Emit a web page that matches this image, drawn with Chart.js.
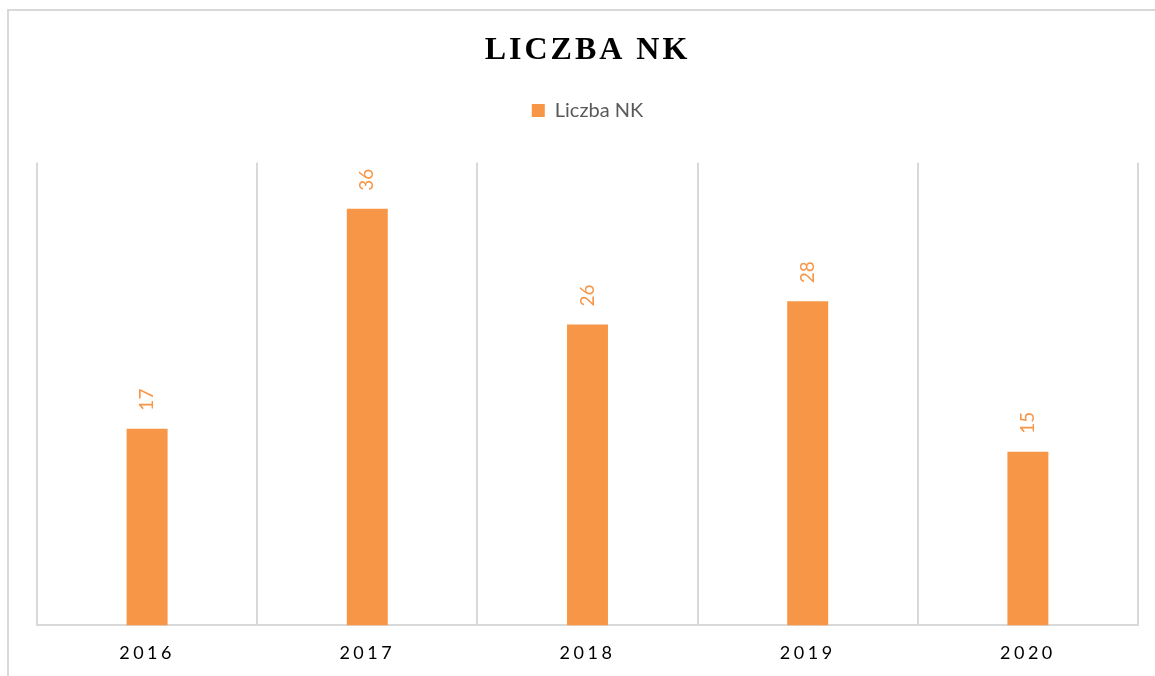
<!DOCTYPE html>
<html>
<head>
<meta charset="utf-8">
<script src="https://cdn.jsdelivr.net/npm/chart.js@4.4.0/dist/chart.umd.min.js"></script>
<style>
  html, body { margin: 0; padding: 0; background: #fff; overflow: hidden; }
  #frame {
    position: absolute; left: 7px; top: 9px; width: 2000px; height: 2000px;
    border-left: 2px solid #d9d9d9; border-top: 2px solid #d9d9d9;
  }
  #wrap { position: absolute; left: 0; top: 0; width: 1155px; height: 676px; }
</style>
</head>
<body>
<div id="frame"></div>
<div id="wrap"><canvas id="nkChart"></canvas></div>
<script>
const years = ["2016", "2017", "2018", "2019", "2020"];
const nkCounts = [17, 36, 26, 28, 15];
const seriesName = "Liczba NK";
const chartTitle = "LICZBA NK";

const orange = "#F79646";

// letter spacing for the title and the year labels
const spacingPlugin = {
  id: "spacing",
  afterUpdate(chart) {
    const x = chart.scales.x;
    if (x && !x._spaced) {
      const orig = x.drawLabels;
      x.drawLabels = function (area) {
        const ctx = this.ctx;
        ctx.save();
        ctx.letterSpacing = "3.5px";
        orig.call(this, area);
        ctx.restore();
      };
      x._spaced = true;
    }
    const t = chart.titleBlock;
    if (t && !t._spaced) {
      const origT = t.draw;
      t.draw = function () {
        const ctx = this.ctx;
        ctx.save();
        ctx.letterSpacing = "3px";
        origT.call(this);
        ctx.restore();
      };
      t._spaced = true;
    }
  },
};

// extra room under the legend
const legendGap = {
  id: "legendGap",
  beforeInit(chart) {
    const fit = chart.legend.fit;
    chart.legend.fit = function () {
      fit.bind(chart.legend)();
      this.height += 32;
    };
  },
};

// rotated value labels above the bars
const valueLabels = {
  id: "valueLabels",
  afterDatasetsDraw(chart) {
    const ctx = chart.ctx;
    const meta = chart.getDatasetMeta(0);
    meta.data.forEach((bar, i) => {
      ctx.save();
      ctx.translate(bar.x, bar.y - 18);
      ctx.rotate(-Math.PI / 2);
      ctx.font = "19px Lato";
      ctx.fillStyle = orange;
      ctx.textAlign = "left";
      ctx.textBaseline = "middle";
      ctx.fillText(String(chart.data.datasets[0].data[i]), 0, 0);
      ctx.restore();
    });
  },
};

const ctx = document.getElementById("nkChart").getContext("2d");
const nkChart = new Chart(ctx, {
  type: "bar",
  data: {
    labels: years,
    datasets: [
      {
        label: seriesName,
        data: nkCounts,
        backgroundColor: orange,
        borderWidth: 0,
        categoryPercentage: 1,
        barPercentage: 0.186,
      },
    ],
  },
  options: {
    responsive: true,
    maintainAspectRatio: false,
    animation: false,
    layout: {
      padding: { left: 37, right: 17, top: 0, bottom: -5 },
    },
    plugins: {
      tooltip: { enabled: false },
      title: {
        display: true,
        text: chartTitle,
        color: "#000",
        font: { family: "'Liberation Serif'", size: 32, weight: "bold" },
        padding: { top: 32, bottom: 20 },
      },
      legend: {
        display: true,
        labels: {
          color: "#595959",
          font: { family: "Lato", size: 20 },
          boxWidth: 13,
          boxHeight: 13,
          padding: 10,
        },
      },
    },
    scales: {
      x: {
        grid: { display: true, color: "#d9d9d9", lineWidth: 2, drawTicks: false, offset: true },
        border: { display: true, color: "#d9d9d9", width: 2 },
        ticks: {
          color: "#000",
          font: { family: "Lato", size: 18 },
          padding: 17,
        },
      },
      y: {
        display: false,
        min: 0,
        max: 40,
      },
    },
  },
  plugins: [spacingPlugin, legendGap, valueLabels],
});
</script>
</body>
</html>
